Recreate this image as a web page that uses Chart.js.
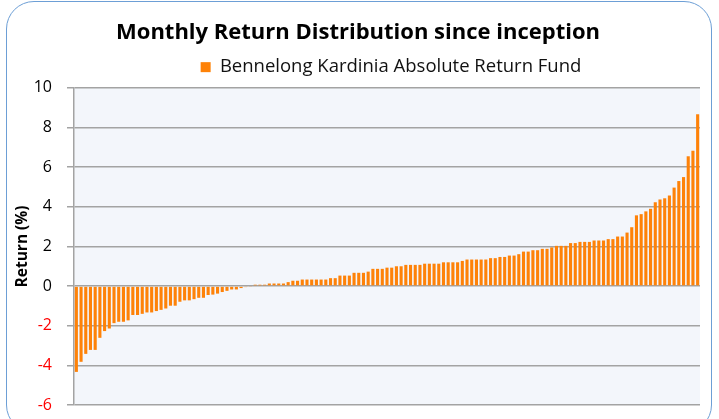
<!DOCTYPE html>
<html>
<head>
<meta charset="utf-8">
<script src="https://cdn.jsdelivr.net/npm/chart.js@4.4.1/dist/chart.umd.min.js"></script>
<style>
    html, body { margin: 0; padding: 0; background: #fff; overflow: hidden; }
    #wrap { position: relative; width: 719px; height: 419px; }
    #frame {
        position: absolute; left: 6px; top: 1px; width: 706px; height: 432px;
        border: 1.5px solid #6d9fd6; border-radius: 28px; box-sizing: border-box;
    }
    #chart { position: absolute; left: 0; top: 0; }
</style>
</head>
<body>
<div id="wrap">
    <div id="frame"></div>
    <canvas id="chart" width="719" height="419"></canvas>
</div>
<script>
// Monthly returns since inception, sorted from worst to best (%)
const monthlyReturns = [
    -4.33, -3.82, -3.42, -3.22, -3.22, -2.61, -2.27, -2.14, -1.87, -1.80,
    -1.80, -1.73, -1.46, -1.46, -1.40, -1.33, -1.33, -1.26, -1.20, -1.13,
    -0.99, -0.99, -0.79, -0.72, -0.72, -0.66, -0.59, -0.59, -0.45, -0.43,
    -0.38, -0.30, -0.24, -0.17, -0.17, -0.10, -0.05, -0.03, 0.07, 0.07,
    0.07, 0.13, 0.13, 0.13, 0.13, 0.20, 0.27, 0.27, 0.33, 0.33,
    0.33, 0.33, 0.33, 0.33, 0.40, 0.40, 0.53, 0.53, 0.53, 0.67,
    0.67, 0.67, 0.73, 0.87, 0.87, 0.87, 0.93, 0.93, 1.00, 1.00,
    1.07, 1.07, 1.07, 1.07, 1.13, 1.13, 1.13, 1.13, 1.20, 1.20,
    1.20, 1.20, 1.27, 1.34, 1.34, 1.34, 1.34, 1.34, 1.41, 1.41,
    1.47, 1.47, 1.54, 1.54, 1.61, 1.74, 1.74, 1.81, 1.81, 1.88,
    1.88, 1.95, 2.03, 2.03, 2.03, 2.17, 2.17, 2.23, 2.23, 2.23,
    2.30, 2.30, 2.30, 2.37, 2.37, 2.50, 2.50, 2.70, 2.97, 3.57,
    3.63, 3.77, 3.90, 4.23, 4.37, 4.43, 4.57, 4.97, 5.30, 5.50,
    6.55, 6.83, 8.67
];
// one category per month (rank order), x axis has no labels
const months = monthlyReturns.map((_, i) => i + 1);
const yTicks = [-6, -4, -2, 0, 2, 4, 6, 8, 10];

const seriesName = 'Bennelong Kardinia Absolute Return Fund';
const chartTitle = 'Monthly Return Distribution since inception';

Chart.defaults.font.family = '"Open Sans"';

// light plot area fill like the spreadsheet chart
const plotBackground = {
    id: 'plotBackground',
    beforeDraw(chart) {
        const { ctx, chartArea } = chart;
        ctx.save();
        ctx.fillStyle = '#f3f6fb';
        ctx.fillRect(chartArea.left, chartArea.top,
            chartArea.right - chartArea.left, chartArea.bottom - chartArea.top);
        ctx.restore();
    }
};

// a bit more room under the legend; title and legend sit right of centre
const headerPlacement = {
    id: 'headerPlacement',
    beforeInit(chart) {
        const fit = chart.legend.fit;
        chart.legend.fit = function () {
            fit.call(this);
            this.height += 1.5;
        };
    },
    afterLayout(chart) {
        chart.legend.left += 41;
        chart.legend.right += 41;
        chart.titleBlock.left += 8;
        chart.titleBlock.right += 8;
    }
};

new Chart(document.getElementById('chart'), {
    type: 'bar',
    data: {
        labels: months,
        datasets: [{
            label: seriesName,
            data: monthlyReturns,
            backgroundColor: '#fe8208',
            borderWidth: 0,
            barPercentage: 0.66,
            categoryPercentage: 1
        }]
    },
    options: {
        responsive: false,
        animation: false,
        layout: { padding: { left: 0, right: 19, top: 0, bottom: 14 } },
        plugins: {
            title: {
                display: true,
                text: chartTitle,
                color: '#000',
                font: { size: 22, weight: 'bold' },
                padding: { top: 19.5, bottom: 4 }
            },
            legend: {
                labels: {
                    color: '#111',
                    font: { size: 18.5 },
                    boxWidth: 10,
                    boxHeight: 10,
                    padding: 8
                }
            },
            tooltip: { enabled: false }
        },
        scales: {
            x: { display: false },
            y: {
                min: -6,
                max: 10,
                afterBuildTicks: scale => {
                    scale.ticks = yTicks.map(v => ({ value: v }));
                },
                afterFit: scale => {
                    scale.width = 74;
                    scale.paddingBottom = 0;
                },
                border: { display: true, color: '#a3a3a3', width: 1.5 },
                grid: { color: '#a3a3a3', lineWidth: 1.5, tickLength: 7, tickColor: '#a3a3a3' },
                ticks: {
                    padding: 15,
                    font: { size: 16 },
                    color: ctx => ctx.tick.value < 0 ? '#ff0000' : '#000'
                },
                title: {
                    display: true,
                    text: 'Return (%)',
                    color: '#000',
                    font: { size: 15.5, weight: 'bold' },
                    padding: { top: 13, bottom: 0 }
                }
            }
        }
    },
    plugins: [plotBackground, headerPlacement]
});
</script>
</body>
</html>
